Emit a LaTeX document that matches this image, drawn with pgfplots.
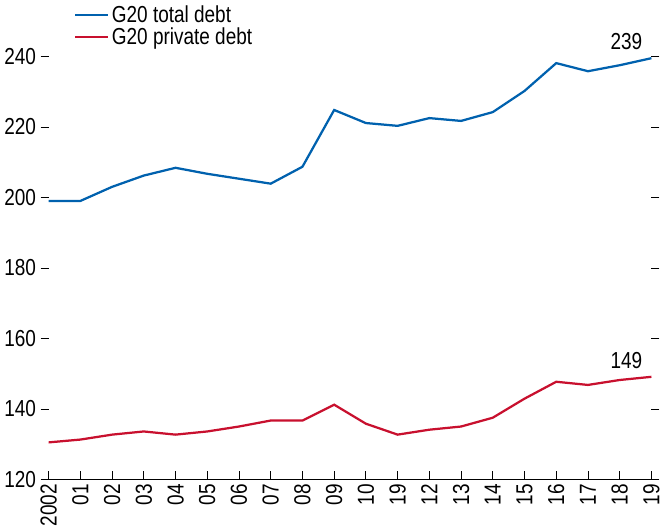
\documentclass[border=0pt]{standalone}
\usepackage{pgfplots}
\pgfplotsset{compat=1.18}
\usepackage{fontspec}
\setmainfont{Liberation Sans}[FakeStretch=0.82]
\definecolor{imfblue}{RGB}{0,97,174}
\definecolor{imfred}{RGB}{200,16,46}
\begin{document}
\begin{tikzpicture}[font=\fontsize{17.5}{21}\selectfont]
  \begin{axis}[
      scale only axis,
      width=456pt,
      height=336pt,
      xmin=0, xmax=19,
      ymin=120, ymax=246,
      axis x line*=bottom,
      y axis line style={draw=none},
      ytick={120,140,...,240},
      ytick pos=both,
      yticklabel pos=left,
      tick align=outside,
      major tick length=6pt,
      xtick={0,...,19},
      xticklabels={2002,01,02,03,04,05,06,07,08,09,10,19,12,13,14,15,16,17,18,19},
      xtick align=inside,
      xticklabel style={rotate=90, anchor=east},
      /pgf/number format/assume math mode=true,
      tick style={black, line width=0.6pt},
      x axis line style={line width=0.6pt, -},
      legend style={at={(rel axis cs:0.035,1.08)}, anchor=north west,
        draw=none, fill=none, row sep=-1pt, font=\fontsize{17.5}{21}\selectfont},
      legend image code/.code={\draw[#1] (0pt,0pt) -- (25pt,0pt);},
      legend cell align=left,
      clip=false,
    ]
    \addplot[imfblue, line width=1.7pt] coordinates {
      (0,199.0) (1,199.0) (2,203.0) (3,206.2) (4,208.4) (5,206.7) (6,205.3)
      (7,203.9) (8,208.7) (9,224.8) (10,221.1) (11,220.3) (12,222.5)
      (13,221.7) (14,224.2) (15,230.2) (16,238.1) (17,235.8) (18,237.5) (19,239.5)
    };
    \addlegendentry{G20 total debt}
    \addplot[imfred, line width=1.7pt] coordinates {
      (0,130.5) (1,131.3) (2,132.7) (3,133.6) (4,132.7) (5,133.6) (6,135.0)
      (7,136.7) (8,136.7) (9,141.2) (10,135.8) (11,132.7) (12,134.1)
      (13,135.0) (14,137.5) (15,142.9) (16,147.7) (17,146.8) (18,148.2) (19,149.1)
    };
    \addlegendentry{G20 private debt}
    \node[anchor=south east, inner sep=2pt] at (axis cs:18.8,241) {239};
    \node[anchor=south east, inner sep=2pt] at (axis cs:18.8,150.5) {149};
  \end{axis}
\end{tikzpicture}
\end{document}
